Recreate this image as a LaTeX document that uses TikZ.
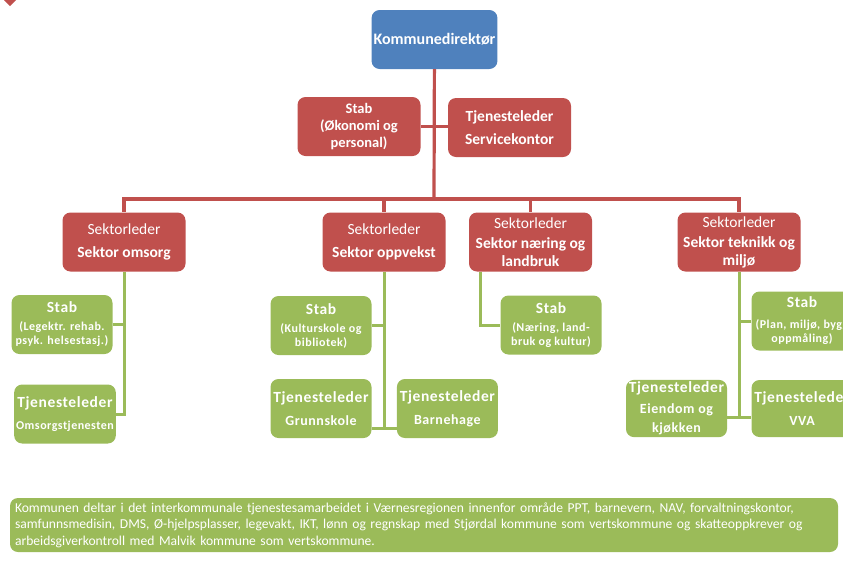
\documentclass[tikz,border=0pt]{standalone}
\usepackage{fontspec}
\setmainfont{Carlito}
\newfontfamily\widefont[LetterSpace=4]{Carlito}
\usetikzlibrary{positioning,calc}
\definecolor{dirblue}{HTML}{4F81BD}
\definecolor{orgred}{HTML}{C0504D}
\definecolor{orggreen}{HTML}{9BBB59}
\newcommand{\headsz}{\fontsize{15.5}{19}\selectfont}
\newcommand{\notesz}{\fontsize{12}{13}\selectfont}
\newcommand{\unitsz}{\fontsize{14}{17}\selectfont}

\begin{document}
\begin{tikzpicture}[x=1pt,y=-1pt,node distance=24pt and 25pt,
    box/.style={rounded corners=8pt, text=white, align=center, inner sep=2pt, minimum height=59pt},
    dirbox/.style={box, fill=dirblue, minimum width=123pt, font=\fontsize{16}{19}\selectfont\bfseries},
    redbox/.style={box, fill=orgred, minimum width=123pt, font=\headsz},
    greenbox/.style={box, fill=orggreen, minimum width=101pt, font=\widefont\headsz\bfseries},
    redline/.style={draw=orgred, line width=3.2pt},
    greenline/.style={draw=orggreen, line width=3pt}]
  \useasboundingbox (0,0) rectangle (843,560);
  \clip (0,0) rectangle (843,560);
  % top
  \fill[orgred] (4,0) -- (16,0) -- (10,6) -- cycle;
  \node[dirbox] (dir) at (434.5,39.5) {Kommunedirektør};
  \node[redbox, font=\fontsize{14.5}{17}\selectfont\bfseries] (stab0) at (359,126.5) {Stab\\(Økonomi og\\personal)};
  \node[redbox, font=\headsz\bfseries] (service) at (509.5,127.5) {Tjenesteleder\\[4pt]Servicekontor};
  % sectors
  \node[redbox] (omsorg) at (124,242) {Sektorleder\\[4pt]\textbf{Sektor omsorg}};
  \node[redbox] (oppvekst) at (384,242) {Sektorleder\\[4pt]\textbf{Sektor oppvekst}};
  \node[redbox, font=\fontsize{15.5}{17.5}\selectfont] (naering) at (530.5,242) {Sektorleder\\[3pt]\textbf{Sektor næring og}\\\textbf{landbruk}};
  \node[redbox, font=\fontsize{15.5}{17.5}\selectfont] (teknikk) at (739,242) {Sektorleder\\[3pt]\textbf{Sektor teknikk og}\\\textbf{miljø}};
  % omsorg
  \node[greenbox] (stabA) at (62,324.5) {Stab\\[-1pt]\notesz(Legektr. rehab.\\[-5pt]\notesz psyk. helsestasj.)};
  \node[greenbox] (tjA) at (65,414) {Tjenesteleder\\[3pt]\notesz Omsorgstjenesten};
  % oppvekst
  \node[greenbox] (stabB) at (321,325.5) {Stab\\[-1pt]\notesz(Kulturskole og\\[-5pt]\notesz bibliotek)};
  \node[greenbox] (tjB1) at (321,408.5) {Tjenesteleder\\[4pt]\unitsz Grunnskole};
  \node[greenbox, right=of tjB1] (tjB2) {Tjenesteleder\\[4pt]\unitsz Barnehage};
  % naering
  \node[greenbox] (stabC) at (551,325) {Stab\\[-1pt]\notesz(Næring, land-\\[-5pt]\notesz bruk og kultur)};
  % teknikk
  \node[greenbox] (stabD) at (802,321) {Stab\\[2pt]\notesz(Plan, miljø, bygg\\[-5pt]\notesz oppmåling)};
  \node[greenbox, minimum height=57pt] (tjD1) at (676.5,408.5) {Tjenesteleder\\[2pt]\unitsz Eiendom og\\\unitsz kjøkken};
  \node[greenbox, minimum height=57pt] (tjD2) at (802,408.5) {Tjenesteleder\\[4pt]\unitsz VVA};
  % note
  \node[box, fill=orggreen, minimum width=828pt, minimum height=54pt, text width=818pt, inner xsep=5pt,
        align=left, font=\fontsize{13.6}{16.5}\selectfont] (note) at (424,525)
    {Kommunen deltar i det interkommunale tjenestesamarbeidet i Værnesregionen innenfor område PPT, barnevern, NAV, forvaltningskontor,\\
     samfunnsmedisin, DMS, Ø-hjelpsplasser, legevakt, IKT, lønn og regnskap med Stjørdal kommune som vertskommune og skatteoppkrever og\\
     arbeidsgiverkontroll med Malvik kommune som vertskommune.};
  % red connectors
  \coordinate (hub) at (434,199);
  \draw[redline] (dir) -- (hub);
  \foreach \s in {omsorg,oppvekst,naering,teknikk}
    \draw[redline] (hub) -| (\s);
  \draw[redline] (stab0.east) -- (stab0.east -| service.west);
  % green connectors
  \draw[greenline] (omsorg.south) |- (tjA);
  \draw[greenline] (stabA) -- (stabA -| omsorg.south);
  \path (oppvekst.south) ++(0,157) coordinate (tB);
  \draw[greenline] (oppvekst) -- (tB);
  \draw[greenline] (tjB1.east |- tB) -- (tjB2.west |- tB);
  \draw[greenline] (stabB) -- (stabB -| tB);
  \draw[greenline] ([xshift=-50pt]naering.south) |- (stabC);
  \path (teknikk.south) ++(0,146) coordinate (tD);
  \draw[greenline] (teknikk) -- (tD);
  \draw[greenline] (tjD1.east |- tD) -- (tjD2.west |- tD);
  \draw[greenline] (stabD) -- (stabD -| tD);
\end{tikzpicture}
\end{document}
